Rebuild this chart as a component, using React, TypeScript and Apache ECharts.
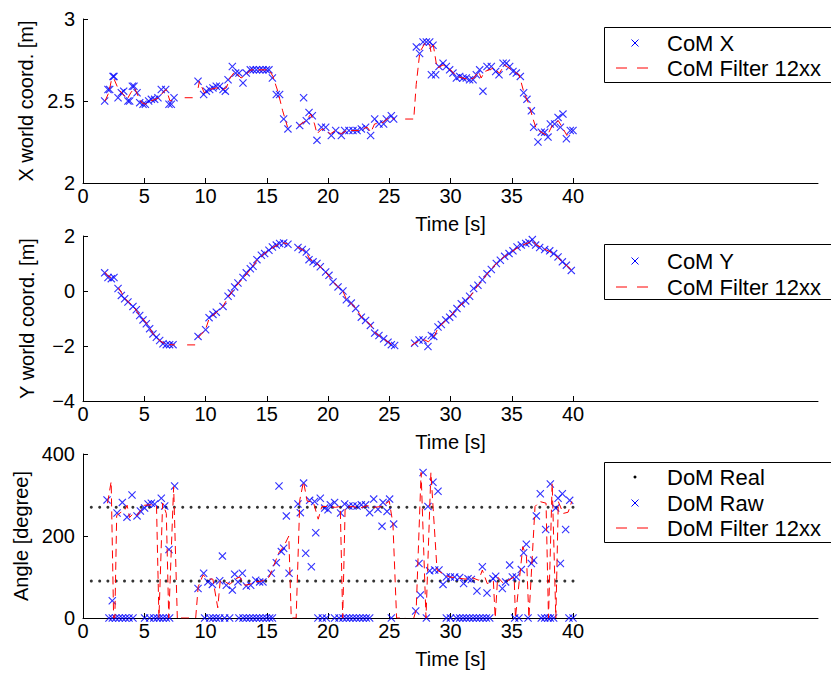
import React, { useEffect, useRef } from "react";
import * as echarts from "echarts";

type P = [number, number | null];

const xTicks = [0, 5, 10, 15, 20, 25, 30, 35, 40];

const comX: P[] = [
  [1.77, 2.5], [2.04, 2.57], [2.18, 2.57], [2.45, 2.65], [2.53, 2.65], [2.86, 2.52], [3.13, 2.55], [3.32, 2.56],
  [3.67, 2.5], [3.81, 2.5], [4.03, 2.59], [4.16, 2.59], [4.41, 2.55], [4.63, 2.49], [4.9, 2.48], [5.09, 2.48],
  [5.36, 2.5], [5.58, 2.51], [5.85, 2.51], [6.12, 2.52], [6.39, 2.57], [6.75, 2.57], [7.02, 2.48], [7.21, 2.48],
  [7.43, 2.52], [9.39, 2.62], [9.85, 2.54], [10.07, 2.56], [10.34, 2.57], [10.61, 2.58], [10.88, 2.59], [11.16, 2.59],
  [11.43, 2.57], [11.62, 2.56], [11.84, 2.63], [12.19, 2.71], [12.46, 2.67], [12.73, 2.67], [13.06, 2.61], [13.33, 2.67],
  [13.66, 2.69], [13.88, 2.69], [14.15, 2.69], [14.42, 2.69], [14.69, 2.69], [14.97, 2.69], [15.18, 2.69], [15.46, 2.64],
  [15.78, 2.54], [16.05, 2.54], [16.38, 2.39], [16.73, 2.33], [17.69, 2.35], [18.01, 2.52], [18.23, 2.38], [18.45, 2.43],
  [18.72, 2.41], [19.1, 2.26], [19.46, 2.34], [19.81, 2.34], [20.27, 2.29], [20.63, 2.32], [21.09, 2.29], [21.36, 2.32],
  [21.71, 2.32], [22.04, 2.32], [22.37, 2.32], [22.72, 2.33], [23.07, 2.34], [23.48, 2.29], [23.81, 2.39], [24.16, 2.36],
  [24.54, 2.36], [24.76, 2.39], [25.17, 2.41], [25.36, 2.39], [27.21, 2.83], [27.48, 2.79], [27.76, 2.86], [28.03, 2.86],
  [28.3, 2.86], [28.57, 2.84], [28.44, 2.66], [28.79, 2.66], [29.06, 2.71], [29.39, 2.73], [29.66, 2.71], [29.93, 2.69],
  [30.2, 2.67], [30.48, 2.64], [30.75, 2.65], [31.02, 2.64], [31.29, 2.64], [31.56, 2.63], [31.84, 2.63], [32.11, 2.66],
  [32.38, 2.69], [32.65, 2.56], [32.98, 2.71], [33.33, 2.71], [33.69, 2.68], [33.96, 2.66], [34.29, 2.73], [34.56, 2.73],
  [34.83, 2.71], [35.1, 2.68], [35.37, 2.67], [35.7, 2.65], [35.97, 2.55], [36.24, 2.51], [36.6, 2.44], [36.79, 2.34],
  [37.14, 2.25], [37.41, 2.31], [37.69, 2.31], [37.96, 2.28], [38.15, 2.36], [38.5, 2.36], [38.78, 2.4], [38.97, 2.34],
  [39.18, 2.42], [39.46, 2.27], [39.78, 2.32], [40.0, 2.32],
];

const comXFilter: P[] = [
  [1.8, 2.5], [2.1, 2.55], [2.3, 2.62], [2.5, 2.64], [2.9, 2.57], [3.3, 2.54], [3.6, 2.51], [3.9, 2.55], [4.2, 2.58],
  [4.5, 2.53], [4.8, 2.49], [5.1, 2.48], [5.5, 2.5], [5.9, 2.51], [6.2, 2.52], [6.5, 2.55], [6.8, 2.57], [7.1, 2.5],
  [7.4, 2.51], [7.8, null], [8.3, 2.52], [9.1, 2.52], [9.25, null], [9.4, 2.58], [9.5, 2.62], [9.9, 2.55], [10.3, 2.57],
  [10.9, 2.58], [11.4, 2.57], [11.7, 2.58], [12.0, 2.64], [12.4, 2.68], [12.9, 2.64], [13.3, 2.66], [13.7, 2.69],
  [15.2, 2.69], [15.5, 2.65], [15.9, 2.56], [16.3, 2.44], [16.7, 2.34], [17.1, null], [17.6, 2.35], [18.2, 2.38],
  [18.6, 2.42], [18.9, 2.36], [19.1, 2.3], [19.5, 2.33], [20.2, 2.3], [20.6, 2.32], [21.1, 2.3], [21.5, 2.32],
  [22.5, 2.32], [23.2, 2.34], [23.5, 2.31], [23.8, 2.36], [24.5, 2.37], [25.0, 2.4], [25.4, 2.39], [25.8, null],
  [26.3, 2.39], [27.0, 2.39], [27.2, 2.6], [27.5, 2.8], [27.9, 2.85], [28.3, 2.85], [28.4, 2.8], [28.6, 2.84],
  [28.9, 2.7], [29.4, 2.72], [30.0, 2.69], [30.5, 2.65], [31.5, 2.63], [31.9, 2.64], [32.3, 2.68], [32.5, 2.64],
  [32.8, 2.68], [33.5, 2.7], [34.0, 2.67], [34.4, 2.72], [35.0, 2.69], [35.6, 2.66], [36.0, 2.55], [36.4, 2.48],
  [36.7, 2.4], [37.0, 2.33], [37.4, 2.31], [37.9, 2.29], [38.3, 2.35], [38.8, 2.38], [39.2, 2.33], [39.5, 2.29],
  [39.9, 2.32],
];

const comY: P[] = [
  [1.77, 0.66], [2.04, 0.49], [2.31, 0.45], [2.53, 0.49], [2.86, 0.09], [3.13, -0.16], [3.4, -0.28], [3.67, -0.4],
  [4.08, -0.56], [4.35, -0.68], [4.63, -0.89], [4.9, -1.05], [5.17, -1.19], [5.44, -1.37], [5.71, -1.56], [5.99, -1.68],
  [6.26, -1.8], [6.53, -1.92], [6.8, -1.95], [7.07, -1.95], [7.35, -1.95], [9.39, -1.65], [10.01, -1.41], [10.29, -0.97],
  [10.61, -0.85], [10.88, -0.77], [11.43, -0.56], [11.84, -0.19], [12.11, -0.07], [12.38, 0.15], [12.65, 0.29],
  [13.06, 0.49], [13.33, 0.66], [13.66, 0.81], [13.88, 0.9], [14.2, 1.14], [14.56, 1.3], [14.83, 1.36], [15.18, 1.48],
  [15.46, 1.6], [15.78, 1.67], [16.05, 1.73], [16.38, 1.75], [16.73, 1.7], [17.55, 1.58], [17.9, 1.51], [18.23, 1.42],
  [18.45, 1.14], [18.78, 1.06], [19.1, 1.0], [19.37, 0.88], [19.81, 0.69], [20.08, 0.57], [20.41, 0.33], [20.82, 0.15],
  [21.22, 0.0], [21.5, -0.32], [21.9, -0.44], [22.26, -0.64], [22.72, -0.95], [23.07, -1.07], [23.46, -1.25],
  [23.81, -1.53], [24.16, -1.62], [24.54, -1.74], [24.9, -1.86], [25.17, -1.95], [25.44, -1.98], [27.07, -1.9],
  [27.43, -1.78], [27.76, -1.78], [28.16, -2.02], [28.44, -1.62], [28.63, -1.65], [28.98, -1.31], [29.25, -1.22],
  [29.61, -1.05], [29.93, -0.95], [30.2, -0.83], [30.53, -0.64], [30.88, -0.46], [31.24, -0.36], [31.56, -0.19],
  [31.89, 0.09], [32.24, 0.21], [32.6, 0.41], [32.98, 0.63], [33.33, 0.78], [33.74, 1.0], [34.07, 1.12], [34.42, 1.26],
  [34.78, 1.36], [35.1, 1.46], [35.43, 1.6], [35.78, 1.67], [36.14, 1.73], [36.41, 1.76], [36.68, 1.87], [36.95, 1.67],
  [37.28, 1.58], [37.69, 1.51], [38.1, 1.46], [38.42, 1.36], [38.78, 1.24], [39.13, 1.06], [39.46, 0.94], [39.86, 0.75],
];

const comYFilter: P[] = [
  [1.8, 0.68], [2.1, 0.52], [2.5, 0.47], [2.7, null], [2.9, 0.12], [3.4, -0.26], [4.1, -0.56], [4.6, -0.86],
  [5.2, -1.18], [5.7, -1.54], [6.3, -1.82], [6.8, -1.94], [7.5, -1.96], [7.9, null], [8.5, -1.96], [9.2, -1.96],
  [9.3, null], [9.4, -1.7], [10.0, -1.4], [10.3, -1.0], [10.9, -0.78], [11.4, -0.57], [11.9, -0.2], [12.4, 0.13],
  [13.1, 0.48], [13.7, 0.8], [14.2, 1.12], [14.8, 1.36], [15.5, 1.58], [16.0, 1.71], [16.4, 1.75], [16.7, 1.71],
  [17.1, null], [17.5, 1.6], [18.2, 1.43], [18.5, 1.16], [19.1, 1.0], [19.8, 0.7], [20.4, 0.35], [20.8, 0.16],
  [21.2, 0.01], [21.5, -0.3], [22.3, -0.63], [22.7, -0.93], [23.5, -1.24], [23.8, -1.5], [24.5, -1.73], [25.2, -1.94],
  [25.6, -1.98], [26.2, null], [26.8, -1.98], [27.1, -1.9], [27.5, -1.8], [27.9, -1.78], [28.2, -1.85], [28.5, -1.68],
  [28.7, -1.62], [29.0, -1.33], [29.9, -0.96], [30.5, -0.65], [31.2, -0.37], [31.6, -0.2], [32.2, 0.18], [33.0, 0.62],
  [33.7, 0.98], [34.4, 1.25], [35.1, 1.46], [35.8, 1.66], [36.4, 1.76], [36.7, 1.85], [37.0, 1.68], [37.7, 1.52],
  [38.4, 1.37], [39.1, 1.07], [39.9, 0.76],
];

const domRealTime = [
  0.68, 1.36, 2.03, 2.71, 3.39, 4.07, 4.75, 5.43, 6.1, 6.78, 7.46, 8.14, 8.82, 9.49, 10.17, 10.85, 11.53, 12.21,
  12.88, 13.56, 14.24, 14.92, 15.6, 16.27, 16.95, 17.63, 18.31, 18.99, 19.66, 20.34, 21.02, 21.7, 22.38, 23.05,
  23.73, 24.41, 25.09, 25.77, 26.44, 27.12, 27.8, 28.48, 29.16, 29.83, 30.51, 31.19, 31.87, 32.55, 33.22, 33.9,
  34.58, 35.26, 35.94, 36.61, 37.29, 37.97, 38.65, 39.33, 40.0,
];
const domRealLevels = [90, 270];

const domRaw: P[] = [
  [1.96, 288], [2.39, 42], [2.78, 256], [3.21, 282], [3.59, 246], [4.0, 300], [4.41, 249], [4.68, 261], [5.03, 268],
  [5.31, 278], [5.58, 280], [5.85, 278], [6.39, 292], [6.67, 273], [7.02, 167], [7.48, 322],
  [9.39, 72], [9.85, 109], [10.2, 88], [10.56, 82], [11.16, 91], [11.38, 151], [11.7, 80], [12.19, 68], [12.38, 107],
  [12.65, 88], [13.01, 109], [13.33, 78], [13.69, 80], [14.1, 92], [14.42, 88], [14.69, 88], [15.37, 109],
  [15.78, 135], [16.19, 162], [16.38, 170], [16.0, 322], [16.6, 249], [16.82, 109], [17.55, 278], [17.74, 257],
  [18.01, 329], [18.18, 158], [18.64, 125], [18.5, 287], [18.91, 284], [19.0, 208], [19.37, 292], [19.73, 268],
  [20.0, 264], [20.19, 276], [20.54, 282], [21.03, 256], [21.36, 278], [21.71, 273], [22.04, 273], [22.37, 273],
  [22.72, 276], [23.07, 276], [23.4, 257], [23.73, 290], [24.08, 265], [24.41, 224], [24.49, 282], [24.82, 260],
  [25.03, 290], [25.36, 229],
  [27.16, 17], [27.43, 133], [27.54, 56], [27.76, 355], [28.16, 272], [28.57, 331], [28.98, 309], [28.3, 115],
  [28.71, 117], [29.06, 117], [29.39, 82], [29.66, 100], [29.99, 100], [30.34, 100], [30.75, 99], [31.07, 84],
  [31.43, 96], [31.7, 94], [32.16, 66], [32.6, 125], [32.98, 61], [33.47, 96], [33.69, 102], [34.23, 72], [34.5, 88],
  [34.83, 129], [35.05, 100], [35.37, 100], [35.78, 118], [35.97, 159], [36.19, 180], [36.6, 133], [36.79, 141],
  [37.01, 249], [37.33, 303], [37.77, 216], [38.15, 327], [38.59, 268], [38.78, 292], [39.13, 303], [38.97, 133],
  [39.4, 216], [39.73, 287],
  [2.12, 0], [2.39, 0], [2.67, 0], [2.94, 0], [3.21, 0], [3.48, 0], [3.76, 0], [4.08, 0],
  [5.03, 0], [5.44, 0], [5.77, 0], [6.04, 0], [6.26, 0], [6.53, 0], [6.8, 0], [7.07, 0],
  [9.93, 0], [10.34, 0], [10.61, 0], [10.88, 0], [11.16, 0], [11.56, 0], [11.97, 0],
  [12.73, 0], [13.06, 0], [13.33, 0], [13.61, 0], [13.88, 0], [14.15, 0], [14.42, 0], [14.69, 0], [14.97, 0],
  [15.24, 0], [15.46, 0], [19.18, 0], [19.54, 0], [19.86, 0],
  [20.54, 0], [20.9, 0], [21.22, 0], [21.5, 0], [21.77, 0], [22.04, 0], [22.31, 0], [22.59, 0], [22.86, 0],
  [23.13, 0], [23.4, 0], [25.17, 0], [28.03, 0], [29.66, 0], [29.99, 0],
  [30.48, 0], [30.75, 0], [31.02, 0], [31.29, 0], [31.56, 0], [31.84, 0], [32.11, 0], [32.38, 0], [32.65, 0],
  [32.93, 0], [33.2, 0], [35.24, 0], [35.59, 0], [36.33, 0],
  [37.41, 0], [37.69, 0], [37.96, 0], [38.15, 0], [38.42, 0], [39.67, 0], [40.0, 0],
];

const domFilter: P[] = [
  [2.0, 280], [2.3, 333], [2.5, 0], [2.6, 0], [2.75, 250], [3.1, 258], [3.4, 262], [3.6, 275], [3.8, 245],
  [4.1, 255], [4.4, 250], [4.7, 262], [5.0, 275], [5.5, 276], [6.0, 274], [6.2, 0], [6.5, 280], [6.8, 255],
  [7.0, 0], [7.4, 320], [7.7, 0], [7.85, null], [8.0, 0], [8.7, 0], [8.9, null], [9.2, 0], [9.4, 76], [9.8, 105],
  [10.2, 95], [10.6, 95], [11.0, 25], [11.2, 90], [11.6, 88], [12.0, 82], [12.4, 95], [12.8, 100], [13.2, 80],
  [13.6, 82], [14.0, 88], [14.6, 90], [15.2, 100], [15.6, 130], [16.0, 160], [16.4, 175], [16.8, 200], [17.0, 0],
  [17.4, 0], [17.7, 288], [18.0, 333], [18.3, 285], [18.8, 283], [19.2, 241], [19.5, 272], [20.0, 272], [20.6, 270],
  [21.0, 272], [21.2, 0], [21.4, 270], [22.0, 272], [22.6, 268], [23.2, 274], [23.8, 270], [24.4, 272], [25.0, 285],
  [25.3, 230], [25.6, 0], [26.3, 0], [26.6, null], [27.0, 0], [27.2, 20], [27.6, 355], [28.0, 0], [28.4, 355],
  [28.9, 117], [29.4, 108], [29.9, 100], [30.5, 98], [31.2, 95], [31.8, 98], [32.3, 92], [32.6, 117], [33.0, 84],
  [33.5, 90], [33.65, 0], [33.85, 100], [34.3, 85], [34.9, 95], [35.2, 100], [35.3, 0], [35.9, 174], [36.2, 150],
  [36.4, 0], [36.9, 272], [37.3, 284], [37.8, 280], [38.0, 0], [38.3, 329], [38.6, 0], [38.8, 284], [39.2, 255],
  [39.6, 258], [39.9, 284],
];

const FONT = "'Liberation Sans', Arial, Helvetica, sans-serif";
const X_MARK = "path://M0,1L1,0L5,4L9,0L10,1L6,5L10,9L9,10L5,6L1,10L0,9L4,5Z";
const BLUE = "#0000ff";
const RED = "#ff0000";

const toData = (arr: P[]) => arr.map(([t, v]) => [t, v === null ? "-" : v]);

const grids = [
  { left: 83, top: 19, width: 735, height: 164 },
  { left: 83, top: 236, width: 735, height: 165 },
  { left: 83, top: 454, width: 735, height: 164 },
];

const yRanges = [
  { min: 2, max: 3, interval: 0.5, name: "X world coord. [m]" },
  { min: -4, max: 2, interval: 2, name: "Y world coord. [m]" },
  { min: 0, max: 400, interval: 200, name: "Angle [degree]" },
];

function legendGraphics(top: number, height: number, rows: { label: string; kind: string; cy: number }[]) {
  const els: any[] = [
    {
      type: "rect",
      shape: { x: 604.5, y: top + 0.5, width: 240, height },
      style: { fill: "#ffffff", stroke: "#000000", lineWidth: 1 },
      z: 100,
    },
  ];
  rows.forEach((r) => {
    els.push({
      type: "text",
      x: 667,
      y: r.cy,
      style: { text: r.label, fontSize: 22, fontFamily: FONT, fill: "#000", verticalAlign: "middle", align: "left" },
      z: 101,
    });
    if (r.kind === "x") {
      els.push(
        { type: "line", shape: { x1: 631.5, y1: r.cy - 3.5, x2: 638.5, y2: r.cy + 3.5 }, style: { stroke: BLUE, lineWidth: 1 }, z: 101 },
        { type: "line", shape: { x1: 638.5, y1: r.cy - 3.5, x2: 631.5, y2: r.cy + 3.5 }, style: { stroke: BLUE, lineWidth: 1 }, z: 101 }
      );
    } else if (r.kind === "dash") {
      els.push({
        type: "line",
        shape: { x1: 616, y1: r.cy, x2: 648, y2: r.cy },
        style: { stroke: RED, lineWidth: 1, lineDash: [11, 10] },
        z: 101,
      });
    } else {
      els.push({ type: "circle", shape: { cx: 635, cy: r.cy, r: 1.5 }, style: { fill: "#000" }, z: 101 });
    }
  });
  return els;
}

export default function App() {
  const ref = useRef<HTMLDivElement>(null);
  useEffect(() => {
    if (!ref.current) return;
    const chart = echarts.init(ref.current, undefined, { renderer: "svg" });
    const axisLine = { show: true, onZero: false, lineStyle: { color: "#000", width: 1 } };
    const textBase = { color: "#000", fontSize: 20, fontFamily: FONT };

    const xAxis = grids.map((_, i) => ({
      type: "value",
      gridIndex: i,
      min: 0,
      max: 60,
      axisLine,
      axisTick: { show: true, inside: true, length: 5, customValues: xTicks, lineStyle: { color: "#000" } },
      axisLabel: { ...textBase, margin: 3, customValues: xTicks },
      splitLine: { show: false },
      name: "Time [s]",
      nameLocation: "middle",
      nameGap: 31,
      nameTextStyle: { ...textBase },
    }));

    const yAxis = yRanges.map((r, i) => ({
      type: "value",
      gridIndex: i,
      min: r.min,
      max: r.max,
      interval: r.interval,
      axisLine,
      axisTick: { show: true, inside: true, length: 5, lineStyle: { color: "#000" } },
      axisLabel: {
        ...textBase,
        margin: 8,
        formatter: (v: number) => String(v).replace("-", "\u2212"),
      },
      splitLine: { show: false },
      name: r.name,
      nameLocation: "middle",
      nameGap: 46,
      nameTextStyle: { ...textBase },
    }));

    const scatterX = (data: P[], i: number) => ({
      type: "scatter",
      xAxisIndex: i,
      yAxisIndex: i,
      data: toData(data),
      symbol: X_MARK,
      symbolSize: 8,
      itemStyle: { color: BLUE },
      z: 3,
    });
    const dashLine = (data: P[], i: number) => ({
      type: "line",
      xAxisIndex: i,
      yAxisIndex: i,
      data: toData(data),
      showSymbol: false,
      symbol: "none",
      connectNulls: false,
      lineStyle: { color: RED, width: 1, type: [8, 5] },
      z: 4,
    });

    const realData: number[][] = [];
    domRealLevels.forEach((lv) => domRealTime.forEach((t) => realData.push([t, lv])));

    chart.setOption({
      animation: false,
      backgroundColor: "#ffffff",
      grid: grids,
      xAxis,
      yAxis,
      series: [
        scatterX(comX, 0),
        dashLine(comXFilter, 0),
        scatterX(comY, 1),
        dashLine(comYFilter, 1),
        {
          type: "scatter",
          xAxisIndex: 2,
          yAxisIndex: 2,
          data: realData,
          symbol: "circle",
          symbolSize: 3,
          itemStyle: { color: "#000" },
          z: 2,
        },
        scatterX(domRaw, 2),
        dashLine(domFilter, 2),
      ],
      graphic: [
        ...legendGraphics(27, 55, [
          { label: "CoM X", kind: "x", cy: 43 },
          { label: "CoM Filter 12xx", kind: "dash", cy: 68 },
        ]),
        ...legendGraphics(244, 55, [
          { label: "CoM Y", kind: "x", cy: 261 },
          { label: "CoM Filter 12xx", kind: "dash", cy: 287 },
        ]),
        ...legendGraphics(462, 80, [
          { label: "DoM Real", kind: "dot", cy: 477 },
          { label: "DoM Raw", kind: "x", cy: 503 },
          { label: "DoM Filter 12xx", kind: "dash", cy: 528 },
        ]),
      ],
    });
    return () => chart.dispose();
  }, []);
  return (
    <div
      ref={ref}
      style={{ position: "absolute", left: 0, top: 0, width: 831, height: 673, background: "#fff" }}
    />
  );
}
